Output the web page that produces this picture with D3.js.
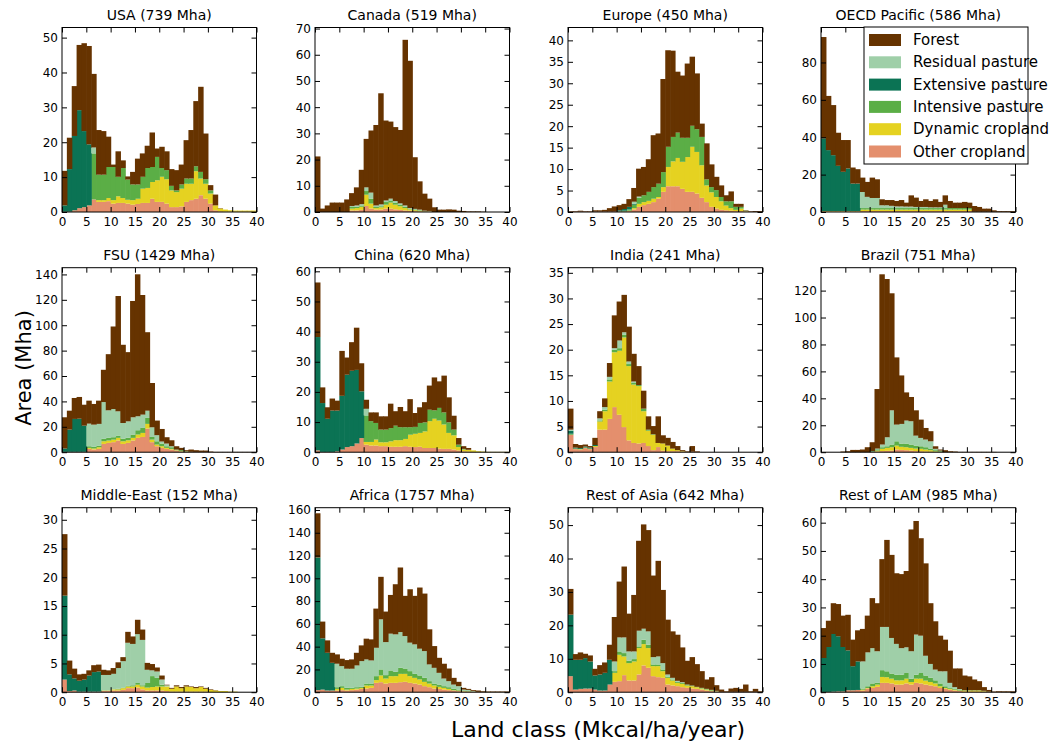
<!DOCTYPE html>
<html>
<head>
<meta charset="utf-8">
<script src="https://cdn.jsdelivr.net/npm/d3@7"></script>
<style>
  body { margin: 0; background: #fff; }
  text { font-family: "DejaVu Sans", sans-serif; fill: #000; }
</style>
</head>
<body>
<div id="chart"></div>
<script>
// regions, in panel order (row by row)
var regions = ["USA", "Canada", "Europe", "OECD Pacific", "FSU", "China", "India", "Brazil",
  "Middle-East", "Africa", "Rest of Asia", "Rest of LAM"];
var regionArea = [739, 519, 450, 586, 1429, 620, 241, 751, 152, 1757, 642, 985];
var yMax = [52.9, 70.4, 43.0, 98.7, 145.3, 61.2, 36.0, 137, 32.1, 162, 55.2, 65.3];
var yStep = [10, 10, 5, 20, 20, 10, 5, 20, 5, 20, 10, 10];
var xTicks = [0, 5, 10, 15, 20, 25, 30, 35, 40];

// land classes 0..39 (Mkcal/ha/year), one row of 40 bins per region
var otherCropland = [
  [0.1,0.1,0.5,1.1,1.4,1.9,3.6,2.9,2.9,3.1, 2.4,2.6,2.6,2.4,2.1,2.3,2.6,2.6,3.8,2.9, 2.9,2.4,1.4,1.4,1.6,2.9,3.4,3.8,4.8,3.8, 2.4,0.5,0.2,0.1,0.1,0.1,0.1,0.1,0.1,0.1],
  [0,0,0,0,0,0,0,0.6,0.6,0.8, 2.3,1.3,0.9,0.9,1.3,1.3,1.0,0.8,0.6,0.5, 0.3,0.2,0.2,0.2,0,0,0,0,0,0, 0,0,0,0,0,0,0,0,0,0],
  [0.1,0.1,0.1,0.1,0.1,0.1,0.1,0.1,0.1,0.1, 0.1,0.1,0.2,0.6,1.2,1.6,1.9,2.3,3.1,4.7, 6.0,6.0,6.0,5.4,4.7,4.7,4.3,3.3,2.3,1.2, 0.8,0.5,0.4,0.3,0.2,0.2,0.1,0.1,0,0],
  [0.3,0.3,0.3,0.3,0.3,0.3,0.3,0.3,0.5,0.5, 0.5,0.5,0.5,0.5,0.5,0.5,0.5,0.5,0.5,0.5, 0.5,0.5,0.5,0.5,0.5,0.5,0.5,0.5,0.5,0.5, 0.5,0.1,0.1,0.1,0.1,0.1,0.1,0.1,0.1,0.1],
  [0.3,0.3,0.3,0.3,0.3,2.6,2.1,2.6,6.5,7.3, 7.9,9.2,6.5,7.3,9.2,11.3,12.0,18.6,7.9,4.7, 3.4,2.6,2.1,1.3,0.5,0.3,0.3,0.2,0.2,0.2, 0.1,0,0,0,0,0,0,0,0,0],
  [0.6,0.1,0.1,0.1,0.3,0.9,1.7,2.0,2.9,4.7, 2.5,2.2,2.2,2.0,2.0,1.8,1.8,1.8,2.0,1.8, 1.7,1.8,1.4,1.4,1.4,1.2,1.1,1.1,0.9,0.6, 0.3,0.2,0.1,0,0,0,0,0,0,0],
  [3.4,0.6,0.5,0.8,0.6,1.0,4.4,4.4,6.5,8.8, 7.3,4.9,2.3,1.8,1.7,1.8,1.2,0.4,1.0,0.3, 0.2,0.2,0.2,0.1,0.1,0.1,0.1,0,0,0, 0,0,0,0,0,0,0,0,0,0],
  [0,0,0,0,0,0,0,0,0,0, 0.2,0.5,0.8,1.0,1.2,2.0,1.7,1.5,1.2,0.8, 0.7,0.5,0.4,0.2,0.1,0,0,0,0,0, 0,0,0,0,0,0,0,0,0,0],
  [2.2,0.2,0.3,0.1,0.1,0.1,0.1,0.1,0.2,0.2, 0.3,0.3,0.4,0.7,0.7,0.8,0.5,0.3,0.3,0.3, 0.3,0.2,0.1,0.1,0.1,0.1,0.1,0.1,0.1,0.1, 0,0,0,0,0,0,0,0,0,0],
  [1.8,2.3,1.5,1.5,1.5,1.8,1.5,1.8,2.3,2.9, 3.2,3.8,8.2,8.8,7.6,8.2,8.2,8.8,9.1,8.2, 7.6,6.7,5.3,4.4,3.2,2.9,2.3,1.8,1.5,0.9, 0.6,0.4,0.3,0.2,0.2,0.1,0.1,0.1,0.1,0.1],
  [4.8,0.8,1.0,1.1,1.1,0.8,0.5,0.5,2.3,3.1, 3.3,5.1,3.5,3.5,5.3,8.0,7.3,4.8,4.5,4.3, 2.3,2.0,1.8,1.5,1.3,1.1,1.0,0.8,0.5,0.3, 0.2,0.1,0.1,0.1,0.1,0.1,0.1,0.1,0.1,0.1],
  [0.1,0.1,0.2,0.3,0.3,0.7,0.7,0.8,0.6,1.3, 1.5,1.9,3.3,3.3,3.1,2.7,2.7,3.1,2.7,3.3, 3.1,2.7,2.4,2.1,1.5,1.2,0.9,0.6,0.4,0.2, 0.2,0.2,0.2,0.2,0.1,0.1,0.1,0,0,0]
];

var dynamicCropland = [
  [0,0,0,0,0,0,0,0.5,0.5,0.9, 1.0,1.9,1.4,1.1,1.3,1.5,4.1,4.3,4.8,6.2, 7.2,7.0,4.8,4.3,5.1,5.2,4.7,7.9,4.8,4.3, 2.9,1.4,0.8,0.6,0.4,0.3,0.3,0.3,0.3,0.3],
  [0,0,0,0,0,0,0,0.7,0.9,1.2, 4.3,1.9,0.6,0.9,1.5,2.3,1.8,1.4,0.9,0.5, 0.4,0.3,0.1,0.1,0,0,0,0,0,0, 0,0,0,0,0,0,0,0,0,0],
  [0,0,0,0,0,0,0,0,0,0, 0,0,0.1,0.3,0.7,0.7,0.7,0.8,0.4,1.1, 4.5,5.8,6.6,6.3,8.1,10.5,9.7,7.6,3.9,3.4, 2.7,2.0,1.1,0.6,0.3,0.6,0.1,0,0,0],
  [0.2,0.2,0.2,0.2,0.2,0.2,0.2,0.2,0.8,0.8, 0.8,0.8,0.8,0.8,0.8,0.8,0.8,0.8,0.8,0.8, 0.8,0.8,0.8,0.8,0.8,0.8,0.8,0.8,0.8,0.8, 0.8,0,0,0,0,0,0,0,0,0],
  [0,0,0,0,0,0.8,0.8,1.3,2.1,1.9, 2.0,2.1,2.1,2.1,2.1,2.6,3.2,3.7,2.0,1.3, 1.3,0.8,0.5,0.3,0.3,0.2,0,0,0,0, 0,0,0,0,0,0,0,0,0,0],
  [0,0,0,0,0,0,0,0,0,0, 0.9,1.2,2.0,1.3,1.3,1.8,2.2,2.2,2.4,4.0, 4.4,4.6,5.5,8.9,9.7,9.3,8.1,5.3,4.7,1.1, 0.6,0.6,0.5,0.3,0.2,0.1,0.1,0.1,0.1,0.1],
  [0,0.1,0.1,0.1,0.1,0.2,1.6,3.6,7.3,10.7, 12.5,17.5,14.5,11.4,11.2,6.2,3.0,3.0,0.8,1.4, 1.1,0.5,0.2,0.1,0,0,0,0,0,0, 0,0,0,0,0,0,0,0,0,0],
  [0,0,0,0,0,0,0,0,0,0, 0.2,0.7,1.7,2.2,2.5,2.9,2.3,2.2,2.0,1.9, 1.8,1.5,1.1,0.5,0.2,0,0,0,0,0, 0,0,0,0,0,0,0,0,0,0],
  [0,0,0,0,0,0,0,0,0.1,0.1, 0.2,0.2,0.3,0.3,0.3,0.5,0.5,0.5,0.6,0.7, 0.7,0.8,0.5,0.9,0.6,0.9,0.8,0.6,0.8,0.5, 0.4,0.3,0.2,0.2,0.1,0.1,0,0,0,0],
  [0,0,0,0,1.4,2.0,0.8,1.1,0.9,0.9, 2.7,2.1,2.4,5.9,4.4,5.9,5.9,7.3,7.0,5.9, 5.0,4.5,3.8,3.2,2.7,1.8,1.5,1.1,0.3,0.6, 0.3,0.3,0.2,0.1,0.1,0.1,0.1,0.1,0.1,0.1],
  [0,0,0,0,0,0,0,0,0,2.7, 7.9,5.6,5.2,5.7,7.9,6.4,5.9,3.0,3.3,2.0, 2.0,1.5,1.0,1.0,0.7,0.7,0.5,0.3,0.3,0.2, 0.1,0,0,0,0,0,0,0,0,0],
  [0,0,0,0,0,0,0,0,0.3,0.2, 0.6,0.8,2.1,2.0,1.7,1.5,1.5,1.7,0.9,1.5, 1.7,1.4,1.2,1.0,0.6,0.3,0.3,0.3,0.2,0.4, 0.4,0.4,0.4,0.2,0.1,0,0,0,0,0]
];

var intensivePasture = [
  [0,0,0,0,0,0,13.2,7.3,7.3,8.9, 9.5,5.6,8.6,5.8,4.5,4.1,3.4,5.7,4.3,6.7, 2.5,2.6,1.3,0.5,1.2,1.5,1.5,1.4,1.9,1.3, 0.9,0,0,0,0,0,0,0,0,0],
  [0,0,0,0,0,0,0,0.6,0.5,0.5, 1.4,1.9,0.4,0.4,1.0,0.6,0.7,0.5,0.5,0.3, 0.3,0.2,0.1,0,0,0,0,0,0,0, 0,0,0,0,0,0,0,0,0,0],
  [0,0,0,0,0,0,0,0,0,0, 0.1,0.2,0.3,0.8,1.4,1.6,2.1,2.7,3.1,3.5, 4.7,5.7,5.9,5.6,4.5,4.9,5.3,6.6,1.4,1.2, 1.6,1.0,1.0,1.6,0.7,0.4,0.1,0,0,0],
  [0,0,0,0,0,0,0,0,0.8,0.8, 0.8,0.8,0.8,0.8,0.8,0.8,0.8,0.8,0.8,0.8, 0.8,0.8,0.8,0.8,0.8,0.8,0.8,0.8,0.8,0.8, 0.8,0,0,0,0,0,0,0,0,0],
  [0,0,0,0,0,1.3,1.3,1.3,1.9,2.1, 1.9,1.8,2.1,1.9,2.6,3.4,3.9,4.7,2.1,2.6, 2.1,1.3,1.3,0.5,0.8,0.3,0,0,0,0, 0,0,0,0,0,0,0,0,0,0],
  [0,0,0,0,0,0,0,0,0,0, 8.8,6.9,5.5,4.2,4.2,4.4,4.8,4.3,3.9,2.5, 2.3,3.3,3.0,3.8,2.8,4.2,4.0,3.5,1.9,0.8, 0.2,0,0,0,0,0,0,0,0,0],
  [0.2,0,0,0,0,0,0.2,0.3,0.4,0.5, 0.5,0.5,0.4,0.3,0.2,0.5,0.2,0.1,0,0, 0,0,0,0,0,0,0,0,0,0, 0,0,0,0,0,0,0,0,0,0],
  [0,0,0,0,0,0,0,0,0,0, 0.2,0.8,1.2,1.2,2.0,3.2,2.4,2.7,2.5,2.2, 1.9,1.7,1.2,0.8,0.5,0,0,0,0,0, 0,0,0,0,0,0,0,0,0,0],
  [0,0,0,0,0,0,0,0,0,0, 0,0.1,0.1,0.1,0.2,0.3,0.2,0.8,1.9,1.5, 0.3,0,0,0,0,0,0,0,0,0, 0,0,0,0,0,0,0,0,0,0],
  [0,0,0,0,1.5,1.5,1.5,0.9,1.2,0.9, 1.7,1.7,3.5,5.3,3.0,5.0,3.8,5.3,4.7,4.4, 3.5,3.5,3.5,2.1,1.7,2.0,1.5,1.5,1.1,0.8, 0.6,0.3,0,0,0,0,0,0,0,0],
  [0,0,0,0,0,0,0,0,0,0.5, 1.0,1.0,0.7,0.7,0.5,1.3,1.0,0.5,0.5,0.5, 0.3,0.3,0.3,0.3,0.3,0.2,0.1,0.2,0.2,0.2, 0.1,0,0,0,0,0,0,0,0,0],
  [0,0,0,0,0,0,0,0,0.4,0.6, 1.0,0.6,2.4,2.1,1.8,2.0,2.0,2.0,1.2,1.4, 2.0,1.8,1.5,1.1,1.0,0.6,0.3,0.3,0.3,0.1, 0.1,0.1,0.1,0.1,0,0,0,0,0,0]
];

var extensivePasture = [
  [1.8,12.2,21.3,28.1,21.8,17.5,0,0,0,0, 0,0,0,0,0,0,0,0,0,0, 0,0,0,0,0,0,0,0,0,0, 0,0,0,0,0,0,0,0,0,0],
  [0,0,0,0,0,0,0,0,0,0, 0,0,0,0,0,0,0,0,0,0, 0,0,0,0,0,0,0,0,0,0, 0,0,0,0,0,0,0,0,0,0],
  [0,0,0,0,0,0,0,0,0,0, 0.2,0.4,0.6,0.2,0,0,0,0,0,0, 0,0,0,0,0,0,0,0,0,0, 0,0,0,0,0,0,0,0,0,0],
  [38.9,32.6,29.9,24.2,21.0,22.8,14.7,14.7,0,0, 0,0,0,0,0,0,0,0,0,0, 0,0,0,0,0,0,0,0,0,0, 0,0,0,0,0,0,0,0,0,0],
  [2.6,17.5,25.9,26.1,20.6,0,0,0,0,0, 0,0,0,0,0,0,0,0,0,0, 0,0,0,0,0,0,0,0,0,0, 0,0,0,0,0,0,0,0,0,0],
  [37.6,16.2,11.0,13.7,13.5,17.8,24.0,25.0,24.4,15.5, 0,0,0,0,0,0,0,0,0,0, 0,0,0,0,0,0,0,0,0,0, 0,0,0,0,0,0,0,0,0,0],
  [0.6,0.2,0.2,0.2,0.2,0.2,0,0,0,0, 0,0,0,0,0,0,0,0,0,0, 0,0,0,0,0,0,0,0,0,0, 0,0,0,0,0,0,0,0,0,0],
  [0,0,0,0,0,0,0,0,0,0, 0.3,0.2,0,0,0,0,0,0,0,0, 0,0,0,0,0,0,0,0,0,0, 0,0,0,0,0,0,0,0,0,0],
  [14.6,2.9,2.1,1.9,2.1,2.8,3.4,3.5,0,0, 0,0,0,0,0,0,0,0,0,0, 0,0,0,0,0,0,0,0,0,0, 0,0,0,0,0,0,0,0,0,0],
  [116.5,45.0,33.1,24.3,0,0,0,0,0,0, 0,0,0,0,0,0,0,0,0,0, 0,0,0,0,0,0,0,0,0,0, 0,0,0,0,0,0,0,0,0,0],
  [18.4,8.9,8.7,9.1,8.1,4.2,4.8,5.3,7.4,0, 0,0,0,0,0,0,0,0,0,0, 0,0,0,0,0,0,0,0,0,0, 0,0,0,0,0,0,0,0,0,0],
  [12.0,15.9,20.4,19.5,15.7,14.1,8.5,10.1,0,0, 0,0,0,0,0,0,0,0,0,0, 0,0,0,0,0,0,0,0,0,0, 0,0,0,0,0,0,0,0,0,0]
];

var residualPasture = [
  [0,0,0,0,0,0,1.7,0,0,0, 0,0,0,0,0,0,0,0,0,0, 0,0,0,0,0,0,0,0,0,0, 0,0,0,0,0,0,0,0,0,0],
  [0,0,0,0,0,0,0,0.4,0.5,0.5, 1.4,2.3,0.6,0.7,0.6,0.9,0.7,0.6,0.5,0.2, 0.2,0.2,0.1,0.1,0,0,0,0,0,0, 0,0,0,0,0,0,0,0,0,0],
  [0,0,0,0,0,0,0,0,0,0, 0,0,0,0.5,0.3,0,0,0,0,0, 0,0,0,0,0,0,0,0,0,0, 0,0,0,0,0,0,0,0,0,0],
  [0,0,0,0,0,0,0,0,8.6,6.0, 5.4,5.4,1.5,1.5,1.2,0.9,0.9,0.8,0.8,0.6, 0.6,0.6,0.4,0.4,0.4,1.8,0,0,0,0, 0,0,0,0,0,0,0,0,0,0],
  [0,0,0,0,0,17.8,17.5,17.1,29.0,21.7, 22.2,19.1,12.3,13.0,13.6,11.0,10.5,5.7,7.6,4.8, 1.6,2.1,0.8,0,0,0,0,0,0,0, 0,0,0,0,0,0,0,0,0,0],
  [0,0,0,0,0,0,0,0,0,0, 2.2,0,0,0,0,0,0,0,0,0, 0,0,0,0,0,0,0,0,0,0, 0,0,0,0,0,0,0,0,0,0],
  [0.2,0,0,0,0,0,0.4,0.5,0.5,0.3, 1.5,0.5,0.5,0.3,0,0,0,0,0,0, 0,0,0,0,0,0,0,0,0,0, 0,0,0,0,0,0,0,0,0,0],
  [0,0,0,0,0,0,0,0,0,0, 0,0.5,2.0,6.7,25.4,12.4,14.6,17.1,17.3,7.4, 6.2,5.7,5.4,1.0,0.4,0,0,0,0,0, 0,0,0,0,0,0,0,0,0,0],
  [0,0,0,0,0,0,0,0,2.7,2.7, 2.7,3.6,4.6,7.5,7.2,8.5,7.9,2.3,1.0,1.1, 0.9,0.2,0,0,0,0,0,0,0,0, 0,0,0,0,0,0,0,0,0,0],
  [0,0,0,0,20.6,17.6,16.8,16.8,19.1,22.6, 21.2,20.3,24.9,44.0,29.0,32.3,32.9,31.4,28.5,25.0, 25.9,23.5,23.5,14.7,13.8,10.3,6.7,5.3,3.8,3.0, 0.8,1.0,0.5,0,0,0,0,0,0,0],
  [0,0,0,0,0,0,0,0,0,2.9, 4.2,4.7,2.8,2.3,4.7,3.3,4.0,2.2,2.4,1.9, 0.7,0.5,0.3,0.2,0,0,0,0,0,0, 0,0,0,0,0,0,0,0,0,0],
  [0,0,0,0,0,0,0,0,9.6,12.0, 12.5,11.2,15.3,15.7,12.6,10.9,9.4,9.1,9.7,14.2, 13.2,7.0,4.9,3.8,4.3,5.3,1.8,0.6,0.2,0, 0,0,0,0,0,0,0,0,0,0]
];

var forest = [
  [9.9,9.0,14.3,18.7,25.2,28.2,21.1,12.8,12.5,8.7, 0.7,7.3,2.2,0.9,3.6,7.4,6.7,6.4,9.9,2.4, 6.1,5.4,4.8,5.8,5.7,11.0,13.9,18.7,24.4,13.1, 1.5,3.1,0.1,0,0,0,0,0,0,0],
  [21.2,1.3,2.5,3.6,3.6,3.6,4.8,4.9,6.9,13.1, 18.5,23.7,30.7,42.4,30.5,29.4,28.2,28.0,63.2,56.2, 19.7,10.8,6.5,4.7,1.8,0.9,0.9,1.0,0.9,0.5, 0.4,0.2,0.2,0.2,0.1,0,0,0,0,0],
  [0.1,0.1,0.2,0.1,0.1,0.3,0.3,0.4,0.8,1.2, 1.2,1.2,1.8,3.2,6.5,6.6,7.6,12.1,11.7,21.7, 22.5,20.1,14.2,14.5,17.3,16.1,13.0,3.1,8.4,5.3, 3.1,2.7,1.4,2.3,0.7,0.7,0.1,0.1,0.2,0.2],
  [54.2,29.0,26.8,17.7,17.0,15.2,8.6,7.7,7.7,8.0, 10.9,10.0,3.2,2.8,3.1,2.9,3.4,2.1,6.0,5.0, 3.2,4.1,3.4,4.3,2.9,5.0,3.8,2.9,2.9,3.3, 2.9,3.1,2.6,1.7,1.7,0.8,0.4,0.4,0.4,0.4],
  [24.6,14.9,16.5,17.1,16.5,18.1,16.3,18.3,25.4,44.2, 65.0,90.8,61.6,54.5,91.6,111.8,94.2,61.8,34.9,11.5, 9.9,5.0,4.7,2.6,1.8,0.8,1.8,1.4,1.1,1.1, 0.4,0.2,0.2,0.2,0.2,0.2,0.2,0.2,0.2,0.2],
  [18.1,5.2,3.8,4.0,3.3,14.9,5.7,9.5,14.0,9.3, 3.0,2.9,3.5,4.4,4.4,8.1,4.8,6.7,5.3,9.3, 4.6,5.2,6.7,8.0,10.9,8.8,12.2,8.3,4.6,2.2, 0.9,0.6,0,0,0,0,0,0,0,0],
  [4.1,0.7,0.6,0.4,0.3,1.4,1.4,1.7,2.7,6.4, 7.6,7.3,6.8,5.4,3.7,3.5,2.6,1.6,5.2,1.6, 1.5,1.3,0.8,0.2,0.1,1.1,0.1,0,0,0, 0,0,0,0,0,0,0,0,0,0],
  [0,0,0,0,0.5,0.7,1.7,1.7,2.0,3.7, 6.5,44.2,126.4,117.5,86.9,49.9,36.0,20.9,18.0,18.8, 13.6,8.6,7.5,1.9,0.8,1.5,0.7,0.5,0.2,0.2, 0.2,0.2,0.2,0.2,0.2,0.2,0,0,0,0],
  [10.7,2.4,1.7,1.1,1.0,0.9,1.2,1.2,0.9,0.8, 1.0,1.0,0.7,1.9,1.3,2.5,1.8,1.2,1.1,0.7, 0.7,0.1,0.15,0.2,0.2,0.2,0.1,0.2,0.1,0.15, 0.1,0.05,0,0,0,0,0,0,0,0],
  [38.8,14.7,10.9,8.8,8.2,6.5,7.6,8.2,11.1,13.8, 18.2,18.5,34.4,37.3,26.8,34.0,44.0,56.7,35.3,46.9, 42.6,53.7,50.5,30.8,19.1,13.2,13.0,11.1,5.9,3.8, 1.5,0.9,0.8,1.2,0.6,0.4,0.4,0.4,0.4,0.4],
  [7.7,1.7,2.2,1.3,1.8,2.0,2.8,3.1,4.5,13.3, 16.7,21.2,11.3,16.9,26.9,31.2,30.3,24.4,28.6,21.9, 16.4,13.9,13.8,10.4,7.1,8.5,6.8,5.0,2.8,3.8, 1.7,0.7,0.2,1.0,1.2,0.9,2.2,0.2,0.9,0.2],
  [10.6,9.3,10.9,11.4,11.1,12.6,9.4,11.0,11.5,13.0, 17.7,17.0,24.0,30.8,29.4,25.0,26.2,27.0,43.1,40.2, 34.5,32.7,21.5,17.1,12.6,11.2,11.4,6.6,7.3,5.2, 4.9,3.8,3.2,1.3,0.6,0.15,0.25,0.3,0.3,0.3]
];

// stacking order, bottom to top
var layerKeys = ["other", "dynamic", "intensive", "extensive", "residual", "forest"];
var layerData = {
  other: otherCropland, dynamic: dynamicCropland, intensive: intensivePasture,
  extensive: extensivePasture, residual: residualPasture, forest: forest
};
var layerColor = {
  forest: "#663300", residual: "#9fcfa8", extensive: "#0b7354",
  intensive: "#5bae46", dynamic: "#e5d221", other: "#e48f6d"
};
var layerLabel = {
  forest: "Forest", residual: "Residual pasture", extensive: "Extensive pasture",
  intensive: "Intensive pasture", dynamic: "Dynamic cropland", other: "Other cropland"
};

var svgWidth = 1056;
var svgHeight = 744;

// panel grid
var colX = [62, 315, 568, 821];
var rowY = [27.5, 267.7, 507.7];
var pw = 194.5;
var ph = 184.5;
var tickLen = 5;

var svg = d3.select("#chart")
  .append("svg")
  .attr("width", svgWidth)
  .attr("height", svgHeight);

var stack = d3.stack().keys(layerKeys);

regions.forEach(function(name, r) {
  var col = r % 4;
  var row = Math.floor(r / 4);

  var g = svg.append("g")
    .attr("transform", `translate(${colX[col]}, ${rowY[row]})`);

  var x = d3.scaleLinear().domain([0, 40]).range([0, pw]);
  var y = d3.scaleLinear().domain([0, yMax[r]]).range([ph, 0]);

  // one row per bin
  var bins = d3.range(40).map(function(i) {
    var d = { bin: i };
    layerKeys.forEach(function(k) { d[k] = layerData[k][r][i]; });
    return d;
  });

  var series = stack(bins);

  // bars are a touch wider than the bin so neighbours overlap (no seams)
  g.selectAll("g.layer")
    .data(series)
    .enter()
    .append("g")
    .attr("class", "layer")
    .attr("fill", s => layerColor[s.key])
    .selectAll("rect")
    .data(s => s.filter(d => d[1] - d[0] > 0))
    .enter()
    .append("rect")
    .attr("x", d => x(d.data.bin))
    .attr("width", d => Math.min(x(d.data.bin + 1) + 0.6, pw) - x(d.data.bin))
    .attr("y", d => y(d[1]))
    .attr("height", d => y(d[0]) - y(d[1]));

  var yTicks = d3.range(0, yMax[r] + 0.001, yStep[r]);

  // inward ticks on all four sides
  var bottomAxis = d3.axisBottom(x).tickValues(xTicks).tickSize(-tickLen).tickPadding(5);
  var topAxis = d3.axisTop(x).tickValues(xTicks).tickSize(-tickLen).tickFormat("");
  var leftAxis = d3.axisLeft(y).tickValues(yTicks).tickSize(-tickLen).tickPadding(4);
  var rightAxis = d3.axisRight(y).tickValues(yTicks).tickSize(-tickLen).tickFormat("");

  var axes = [
    g.append("g").attr("transform", `translate(0, ${ph})`).call(bottomAxis),
    g.append("g").call(topAxis),
    g.append("g").call(leftAxis),
    g.append("g").attr("transform", `translate(${pw}, 0)`).call(rightAxis)
  ];
  axes.forEach(function(a) {
    a.select(".domain").remove();
    a.selectAll("line").attr("stroke", "#000").attr("stroke-width", 1);
    a.selectAll("text")
      .style("font-family", '"DejaVu Sans", sans-serif')
      .style("font-size", "12px")
      .attr("fill", "#000");
  });

  g.append("rect")
    .attr("width", pw)
    .attr("height", ph)
    .attr("fill", "none")
    .attr("stroke", "#000")
    .attr("stroke-width", 1);

  g.append("text")
    .attr("x", pw / 2)
    .attr("y", -8)
    .attr("text-anchor", "middle")
    .style("font-size", "14px")
    .text(`${name} (${regionArea[r]} Mha)`);
});

// legend, over the OECD Pacific panel
var legendKeys = layerKeys.slice().reverse();
var legend = svg.append("g").attr("transform", "translate(864, 27)");

legend.append("rect")
  .attr("width", 164)
  .attr("height", 137)
  .attr("fill", "#fff")
  .attr("stroke", "#000")
  .attr("stroke-width", 1);

legendKeys.forEach(function(k, i) {
  var cy = 13 + i * 22.3;
  legend.append("rect")
    .attr("x", 5)
    .attr("y", cy - 6)
    .attr("width", 32)
    .attr("height", 12)
    .attr("fill", layerColor[k]);
  legend.append("text")
    .attr("x", 49)
    .attr("y", cy + 5)
    .style("font-size", "15px")
    .text(layerLabel[k]);
});

// shared axis labels
svg.append("text")
  .attr("x", 598)
  .attr("y", 737)
  .attr("text-anchor", "middle")
  .style("font-size", "22px")
  .text("Land class (Mkcal/ha/year)");

svg.append("text")
  .attr("transform", "translate(31, 368) rotate(-90)")
  .attr("text-anchor", "middle")
  .style("font-size", "21px")
  .text("Area (Mha)");
</script>
</body>
</html>
